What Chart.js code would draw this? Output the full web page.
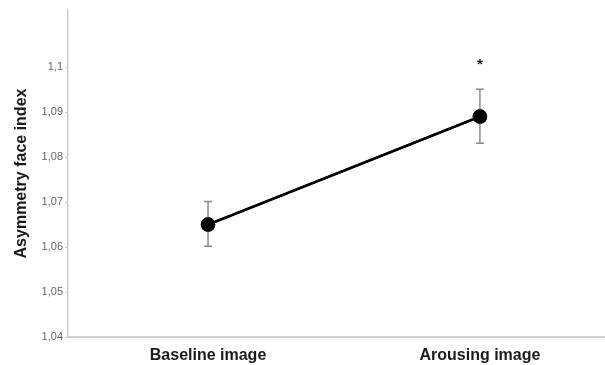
<!DOCTYPE html>
<html>
<head>
<meta charset="utf-8">
<script src="https://cdn.jsdelivr.net/npm/chart.js@4/dist/chart.umd.min.js"></script>
<style>
  html, body { margin: 0; padding: 0; background: #fff; }
  #wrap { width: 605px; height: 365px; }
</style>
</head>
<body>
<div id="wrap"><canvas id="chart" width="605" height="365"></canvas></div>
<script>
// data
const categories = ['Baseline image', 'Arousing image'];
const means = [1.065, 1.089];
const errLow = [1.0602, 1.0831];
const errHigh = [1.0701, 1.0951];
const significant = ['', '*'];
const yTickValues = [1.04, 1.05, 1.06, 1.07, 1.08, 1.09, 1.10];
const yTickLabels = ['1,04', '1,05', '1,06', '1,07', '1,08', '1,09', '1,1'];

const errorBars = {
    id: 'errorBars',
    afterDatasetsDraw(chart) {
        const ctx = chart.ctx;
        const x = chart.scales.x, y = chart.scales.y;
        ctx.save();
        categories.forEach((c, i) => {
            const px = x.getPixelForValue(i + 1);
            const top = y.getPixelForValue(errHigh[i]);
            const bot = y.getPixelForValue(errLow[i]);
            ctx.strokeStyle = '#8a8a8a';
            ctx.lineWidth = 1.5;
            ctx.beginPath();
            ctx.moveTo(px, top); ctx.lineTo(px, bot);
            ctx.moveTo(px - 4, top); ctx.lineTo(px + 4, top);
            ctx.moveTo(px - 4, bot); ctx.lineTo(px + 4, bot);
            ctx.stroke();
            if (significant[i]) {
                ctx.fillStyle = '#222';
                ctx.font = 'bold 15px "Liberation Sans"';
                ctx.textAlign = 'center';
                ctx.textBaseline = 'middle';
                ctx.fillText(significant[i], px, y.getPixelForValue(1.1005));
            }
        });
        ctx.restore();
    }
};

// draw the line and points on top of the error bars
const redraw = {
    id: 'redraw',
    afterDraw(chart) {
        chart.getDatasetMeta(0).controller.draw();
    }
};

new Chart(document.getElementById('chart').getContext('2d'), {
    type: 'line',
    data: {
        datasets: [{
            data: means.map((v, i) => ({ x: i + 1, y: v })),
            borderColor: '#000',
            borderWidth: 2.5,
            pointRadius: 6,
            pointBackgroundColor: '#000',
            pointBorderColor: '#000',
            tension: 0
        }]
    },
    options: {
        responsive: false,
        animation: false,
        layout: { autoPadding: false, padding: { top: 10, right: 0, left: 0, bottom: 0 } },
        plugins: { legend: { display: false }, tooltip: { enabled: false } },
        scales: {
            x: {
                type: 'linear',
                min: 0.485,
                max: 2.46,
                afterBuildTicks(axis) { axis.ticks = categories.map((c, i) => ({ value: i + 1 })); },
                afterFit(axis) { axis.height = 28; },
                ticks: {
                    callback: (v) => categories[v - 1],
                    color: '#1a1a1a',
                    font: { family: '"Liberation Sans"', size: 16, weight: 'bold' },
                    padding: 1,
                    maxRotation: 0
                },
                grid: { display: false },
                border: { color: '#cfcfcf', width: 2 }
            },
            y: {
                min: 1.04,
                max: 1.1127,
                afterBuildTicks(axis) { axis.ticks = yTickValues.map(v => ({ value: v })); },
                afterFit(axis) { axis.width = 68; },
                ticks: {
                    callback: (v) => yTickLabels[yTickValues.findIndex(t => Math.abs(t - v) < 1e-6)],
                    color: '#666',
                    font: { family: '"Liberation Sans"', size: 11 },
                    padding: 2
                },
                grid: { drawOnChartArea: false, tickLength: 3, color: '#cfcfcf' },
                border: { color: '#cfcfcf', width: 1.5 },
                title: {
                    display: true,
                    text: 'Asymmetry face index',
                    color: '#1a1a1a',
                    font: { family: '"Liberation Sans"', size: 16, weight: 'bold' },
                    padding: { top: 12, bottom: 0 }
                }
            }
        }
    },
    plugins: [errorBars, redraw]
});
</script>
</body>
</html>
